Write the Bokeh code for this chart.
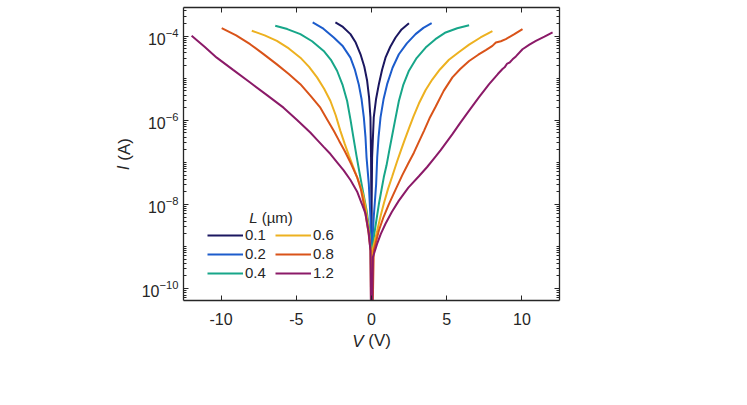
from bokeh.plotting import figure
from bokeh.models import (Range1d, LinearAxis, LogAxis, FixedTicker, Legend, LegendItem,
                          Label, CustomJSTickFormatter, LogTickFormatter)
from bokeh.embed import file_html
from bokeh.resources import INLINE
import math

# Channel lengths (um) and line colours
lengths = ["0.1", "0.2", "0.4", "0.6", "0.8", "1.2"]
colors = ["#1b1760", "#1c5ccc", "#17a689", "#edb120", "#d95319", "#8b1a68"]

# I-V sweeps: bias V (V) and |I| (A); the V = 0 point sits below the axis floor
v_01 = [-2.40, -1.90, -1.40, -1.05, -0.73, -0.48, -0.29, -0.16, -0.07, -0.03, -0.01, 0.0,
        0.01, 0.04, 0.15, 0.30, 0.49, 0.70, 0.93, 1.25, 1.60, 2.00, 2.49]
i_01 = [2.14e-4, 1.66e-4, 1.12e-4, 7.08e-5, 3.72e-5, 1.91e-5, 8.71e-6, 3.47e-6, 1.17e-6, 1.32e-7,
        1.0e-8, 1e-12,
        1.0e-8, 1.32e-7, 1.17e-6, 3.16e-6, 7.24e-6, 1.58e-5, 3.09e-5, 5.62e-5, 9.33e-5, 1.45e-4,
        2.04e-4]

v_02 = [-3.91, -3.20, -2.51, -1.90, -1.40, -1.10, -0.85, -0.66, -0.51, -0.40, -0.33, -0.18, -0.07,
        -0.02, 0.0,
        0.03, 0.15, 0.31, 0.38, 0.47, 0.60, 0.80, 1.04, 1.40, 1.82, 2.35, 2.93, 3.45, 4.00]
i_02 = [2.14e-4, 1.51e-4, 9.33e-5, 5.75e-5, 3.09e-5, 1.58e-5, 7.24e-6, 3.16e-6, 1.17e-6, 3.98e-7,
        1.32e-7, 3.09e-8, 5.01e-9, 7.94e-10, 1e-12,
        7.94e-10, 5.01e-9, 3.09e-8, 1.32e-7, 3.98e-7, 1.17e-6, 3.16e-6, 7.24e-6, 1.78e-5, 3.72e-5,
        6.76e-5, 1.12e-4, 1.58e-4, 2.04e-4]

v_04 = [-6.40, -5.60, -4.73, -3.95, -3.18, -2.70, -2.29, -1.93, -1.62, -1.40, -1.22, -1.00, -0.80,
        -0.62, -0.45, -0.33, -0.13, -0.04, 0.0,
        0.04, 0.22, 0.49, 0.65, 0.82, 1.00, 1.15, 1.38, 1.58, 1.82, 2.12, 2.49, 3.00, 3.60, 4.25,
        4.93, 5.70, 6.49]
i_04 = [1.78e-4, 1.48e-4, 1.12e-4, 7.59e-5, 4.47e-5, 2.75e-5, 1.51e-5, 7.08e-6, 2.88e-6, 1.05e-6,
        4.27e-7, 1.45e-7, 5.75e-8, 2.57e-8, 1.23e-8, 7.41e-9, 2.29e-9, 7.94e-10, 1e-12,
        7.94e-10, 2.40e-9, 1.02e-8, 2.09e-8, 4.47e-8, 8.51e-8, 1.66e-7, 4.47e-7, 1.05e-6, 2.88e-6,
        7.08e-6, 1.51e-5, 3.02e-5, 5.37e-5, 8.51e-5, 1.23e-4, 1.55e-4, 1.82e-4]

v_06 = [-7.96, -7.10, -6.29, -5.50, -4.73, -4.15, -3.62, -3.15, -2.73, -2.38, -2.07, -1.78, -1.50,
        -1.10, -0.78, -0.55, -0.40, -0.18, -0.05, 0.0,
        0.06, 0.38, 0.60, 0.82, 1.10, 1.38, 1.70, 1.98, 2.20, 2.49, 2.80, 3.15, 3.60, 4.04, 4.55,
        5.15, 5.80, 6.49, 7.25, 8.04]
i_06 = [1.35e-4, 1.05e-4, 7.76e-5, 5.13e-5, 3.09e-5, 1.86e-5, 1.05e-5, 5.62e-6, 2.88e-6, 1.32e-6,
        5.62e-7, 2.75e-7, 1.45e-7, 6.03e-8, 3.02e-8, 1.66e-8, 8.91e-9, 2.51e-9, 7.94e-10, 1e-12,
        7.94e-10, 2.40e-9, 5.25e-9, 1.05e-8, 2.34e-8, 4.68e-8, 1.05e-7, 2.04e-7, 3.39e-7, 6.46e-7,
        1.26e-6, 2.51e-6, 5.25e-6, 9.33e-6, 1.62e-5, 2.75e-5, 4.17e-5, 6.31e-5, 9.33e-5, 1.32e-4]

v_08 = [-9.96, -9.00, -8.07, -7.20, -6.29, -5.50, -4.73, -4.05, -3.40, -2.95, -2.51, -2.15, -1.80,
        -1.35, -0.96, -0.70, -0.51, -0.22, -0.06, 0.0,
        0.15, 0.49, 0.80, 1.15, 1.60, 2.04, 2.45, 2.82, 3.11, 3.49, 3.85, 4.27, 4.80, 5.38, 5.90,
        6.49, 7.10, 7.60, 8.04, 8.27, 8.60, 8.93, 9.50, 10.04]
i_08 = [1.55e-4, 1.05e-4, 6.46e-5, 3.80e-5, 2.14e-5, 1.26e-5, 7.24e-6, 3.80e-6, 2.00e-6, 1.05e-6,
        5.62e-7, 3.24e-7, 1.91e-7, 9.12e-8, 4.47e-8, 2.24e-8, 1.02e-8, 2.40e-9, 7.94e-10, 1e-12,
        7.94e-10, 2.40e-9, 5.01e-9, 1.00e-8, 2.24e-8, 4.90e-8, 9.55e-8, 1.70e-7, 2.88e-7, 5.62e-7,
        1.10e-6, 2.14e-6, 5.01e-6, 1.05e-5, 1.66e-5, 2.57e-5, 3.63e-5, 4.68e-5, 5.89e-5, 7.08e-5,
        7.59e-5, 8.51e-5, 1.12e-4, 1.48e-4]

v_12 = [-11.96, -11.10, -10.29, -9.20, -8.07, -6.95, -5.85, -4.95, -4.07, -3.60, -3.18, -2.73,
        -2.30, -1.85, -1.40, -0.96, -0.65, -0.40, -0.18, -0.07, 0.0,
        0.09, 0.37, 0.62, 0.93, 1.35, 1.82, 2.45, 3.15, 3.70, 4.27, 4.60, 5.38, 5.90, 6.49, 7.15,
        7.82, 8.40, 8.71, 8.85, 9.00, 9.20, 9.38, 9.60, 10.04, 10.50, 10.93, 11.50, 12.04]
i_12 = [1.02e-4, 5.62e-5, 3.09e-5, 1.58e-5, 7.94e-6, 3.98e-6, 2.00e-6, 1.02e-6, 5.13e-7, 3.39e-7,
        2.34e-7, 1.58e-7, 1.02e-7, 6.46e-8, 3.80e-8, 2.04e-8, 1.05e-8, 6.03e-9, 2.04e-9, 7.94e-10,
        1e-12,
        5.50e-10, 1.15e-9, 2.00e-9, 3.47e-9, 6.61e-9, 1.23e-8, 2.51e-8, 4.68e-8, 7.76e-8, 1.38e-7,
        1.95e-7, 4.68e-7, 8.71e-7, 1.70e-6, 3.55e-6, 7.24e-6, 1.26e-5, 1.66e-5, 1.82e-5, 2.19e-5,
        2.40e-5, 2.82e-5, 3.31e-5, 4.90e-5, 6.31e-5, 7.76e-5, 9.77e-5, 1.23e-4]

x_ticks = [-10, -5, 0, 5, 10]
y_ticks = [1e-10, 1e-8, 1e-6, 1e-4]

FONT = "Liberation Sans"
INK = "#262626"
NBSP = "\u00a0"

p = figure(frame_width=376, frame_height=293, y_axis_type="log",
           x_range=Range1d(-12.5, 12.5), y_range=Range1d(10 ** -10.285, 10 ** -3.317),
           output_backend="svg", toolbar_location=None,
           min_border_left=183, min_border_right=188, min_border_top=7, min_border_bottom=105,
           background_fill_color="white", border_fill_color="white")
p.grid.visible = False
p.outline_line_color = None

y_minor = [m * 10.0 ** e for e in range(-11, -3) for m in range(1, 10)
           if not (m == 1 and 10.0 ** e in y_ticks)]
y_ticker = FixedTicker(ticks=y_ticks, minor_ticks=y_minor)
x_ticker = FixedTicker(ticks=x_ticks, minor_ticks=[])
blank = CustomJSTickFormatter(code="return ''")


def style_axis(ax, labels=True):
    ax.axis_line_color = INK
    ax.axis_line_width = 1.3
    ax.major_tick_line_color = INK
    ax.minor_tick_line_color = INK
    ax.major_tick_in = 5
    ax.major_tick_out = 0
    ax.minor_tick_in = 3
    ax.minor_tick_out = 0
    ax.major_label_text_font = FONT
    ax.major_label_text_font_size = "16px"
    ax.major_label_text_color = INK
    if not labels:
        ax.major_label_standoff = 0


p.xaxis.ticker = x_ticker
p.xaxis.formatter = CustomJSTickFormatter(code="return tick.toString()")
p.yaxis.ticker = y_ticker
p.yaxis.formatter = LogTickFormatter()
style_axis(p.xaxis[0])
style_axis(p.yaxis[0])
p.xaxis.minor_tick_line_color = None
p.xaxis.major_label_standoff = 12
p.yaxis.major_label_standoff = 5

top = LinearAxis(ticker=x_ticker, formatter=blank)
style_axis(top, labels=False)
top.minor_tick_line_color = None
p.add_layout(top, "above")

right = LogAxis(ticker=y_ticker, formatter=blank)
style_axis(right, labels=False)
p.add_layout(right, "right")

series = [(v_01, i_01), (v_02, i_02), (v_04, i_04), (v_06, i_06), (v_08, i_08), (v_12, i_12)]
renderers = []
for (vv, ii), c in zip(series, colors):
    renderers.append(p.line(vv, ii, line_color=c, line_width=2))


def make_legend(idx, x, y):
    items = [LegendItem(label=lengths[k], renderers=[renderers[k]]) for k in idx]
    return Legend(items=items, location=(x, y), padding=0, margin=0, spacing=2,
                  glyph_width=36, glyph_height=16, label_height=16, label_standoff=2,
                  border_line_color=None, background_fill_alpha=0,
                  label_text_font=FONT, label_text_font_size="15px", label_text_color=INK)


p.add_layout(make_legend([0, 1, 2], 24, 19))
p.add_layout(make_legend([3, 4, 5], 92, 19))


def text_label(x, y, text, italic=False, align="left", size="15px", angle=0.0):
    return Label(x=x, y=y, x_units="screen", y_units="screen", text=text,
                 text_font=FONT, text_font_size=size, text_color=INK,
                 text_font_style="italic" if italic else "normal",
                 text_align=align, text_baseline="middle", angle=angle)


# legend heading
p.add_layout(text_label(74, 83, "L", italic=True, align="right"))
p.add_layout(text_label(74, 83, NBSP + "(\u00b5m)"))

# axis titles, placed in the side panels next to the axes
p.add_layout(text_label(180, 5, "V", italic=True, align="right", size="17px"), "below")
p.add_layout(text_label(180, 25, NBSP + "(V)", size="17px"), "below")
p.add_layout(text_label(4, 135, "I", italic=True, align="right", size="17px", angle=math.pi / 2), "left")
p.add_layout(text_label(24, 135, NBSP + "(A)", size="17px", angle=math.pi / 2), "left")

open("out.html", "w").write(file_html(p, INLINE, title="I-V"))
